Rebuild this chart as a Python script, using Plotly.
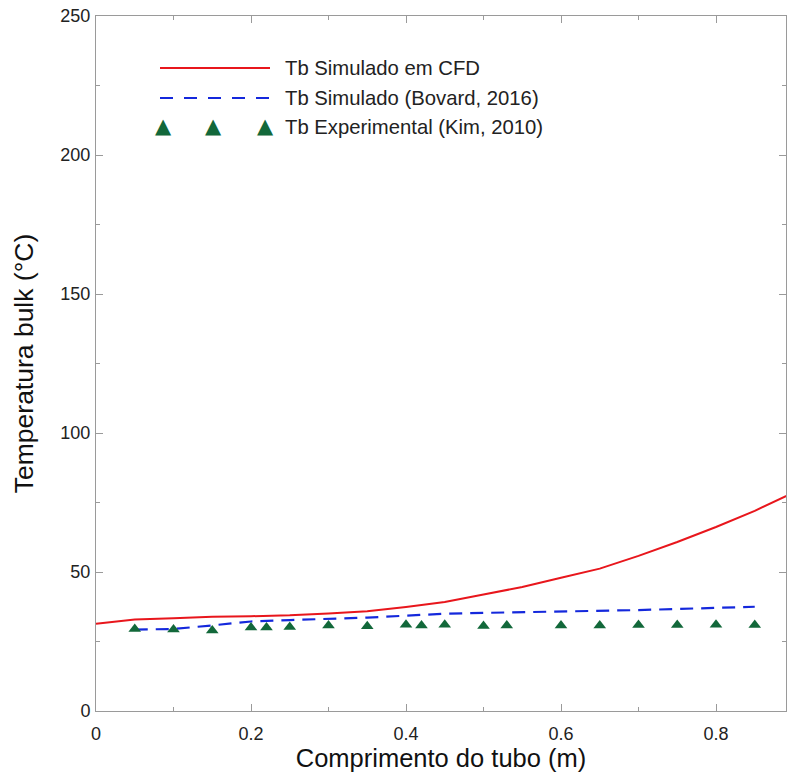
import plotly.graph_objects as go

# ---- data ----
x_cfd = [0, 0.05, 0.1, 0.15, 0.2, 0.25, 0.3, 0.35, 0.4, 0.45, 0.5, 0.55, 0.6, 0.65, 0.7, 0.75, 0.8, 0.85, 0.9]
y_cfd = [31.4, 32.9, 33.4, 33.9, 34.1, 34.4, 35.1, 35.9, 37.4, 39.2, 41.9, 44.6, 47.9, 51.2, 55.8, 60.8, 66.2, 72.0, 78.6]

x_bovard = [0.05, 0.1, 0.15, 0.2, 0.25, 0.3, 0.35, 0.4, 0.45, 0.5, 0.55, 0.6, 0.65, 0.7, 0.75, 0.8, 0.85]
y_bovard = [29.3, 29.5, 30.8, 32.2, 32.7, 33.1, 33.6, 34.3, 35.0, 35.3, 35.5, 35.7, 35.9, 36.3, 36.7, 37.1, 37.5]

x_exp = [0.05, 0.1, 0.15, 0.2, 0.22, 0.25, 0.3, 0.35, 0.4, 0.42, 0.45, 0.5, 0.53, 0.6, 0.65, 0.7, 0.75, 0.8, 0.85]
y_exp = [29.5, 29.3, 29.0, 30.0, 30.0, 30.2, 30.8, 30.5, 31.0, 30.8, 31.0, 30.6, 30.8, 30.8, 30.8, 30.9, 30.9, 31.0, 30.9]

names = ["Tb Simulado em CFD", "Tb Simulado (Bovard, 2016)", "Tb Experimental (Kim, 2010)"]
x_ticks = [0, 0.2, 0.4, 0.6, 0.8]
y_ticks = [0, 50, 100, 150, 200, 250]

RED = "#e8161c"
BLUE = "#1428dc"
GREEN = "#12683a"
FONT = "Liberation Sans, Arial, sans-serif"

W, H = 787, 778
ML, MR, MT, MB = 96, 1, 16, 67
PW, PH = W - ML - MR, H - MT - MB


def px(xp):
    return (xp - ML) / PW


def py(yp):
    return (H - MB - yp) / PH


fig = go.Figure()
fig.add_trace(go.Scatter(x=x_cfd, y=y_cfd, mode="lines", name=names[0],
                         line=dict(color=RED, width=2), showlegend=False))
fig.add_trace(go.Scatter(x=x_bovard, y=y_bovard, mode="lines", name=names[1],
                         line=dict(color=BLUE, width=2.2, dash="13px,8px"), showlegend=False))
fig.add_trace(go.Scatter(x=x_exp, y=y_exp, mode="markers", name=names[2],
                         marker=dict(symbol="triangle-up", size=11, color=GREEN), showlegend=False))

# ---- custom legend (layout decoration) ----
shapes = [
    dict(type="line", xref="paper", yref="paper", x0=px(160), x1=px(270), y0=py(68), y1=py(68),
         line=dict(color=RED, width=2)),
    dict(type="line", xref="paper", yref="paper", x0=px(160), x1=px(270), y0=py(98), y1=py(98),
         line=dict(color=BLUE, width=2.2, dash="13px,11px")),
]
annotations = []
for nm, yy in zip(names, [68, 98, 127]):
    annotations.append(dict(xref="paper", yref="paper", x=px(283), y=py(yy), text=nm,
                            showarrow=False, xanchor="left", yanchor="middle",
                            font=dict(family=FONT, size=20.3, color="#222222")))
for xx in [163, 213, 265]:
    annotations.append(dict(xref="paper", yref="paper", x=px(xx), y=py(126), text="▲",
                            showarrow=False, xanchor="center", yanchor="middle",
                            font=dict(family="DejaVu Sans", size=21, color=GREEN)))

axis_common = dict(
    showline=True, linecolor="#9a9a9a", linewidth=1, mirror="ticks",
    ticks="inside", ticklen=7, tickcolor="#9a9a9a", tickwidth=1,
    showgrid=False, zeroline=False, ticklabeloverflow="allow",
    tickfont=dict(family=FONT, size=18, color="#222222"),
)

fig.update_layout(
    width=W, height=H,
    margin=dict(l=ML, r=MR, t=MT, b=MB),
    paper_bgcolor="white", plot_bgcolor="white",
    xaxis=dict(range=[0, PW / 775], tickvals=x_ticks, ticktext=[str(v) for v in x_ticks],
               minor=dict(dtick=0.1, ticks="inside", ticklen=4, tickcolor="#9a9a9a"),
               ticklabelstandoff=6,
               title=dict(text="Comprimento do tubo (m)", font=dict(family=FONT, size=25.5, color="#111111"),
                          standoff=6),
               **axis_common),
    yaxis=dict(range=[0, 250], tickvals=y_ticks,
               minor=dict(dtick=25, ticks="inside", ticklen=4, tickcolor="#9a9a9a"),
               ticklabelstandoff=1,
               title=dict(text="Temperatura bulk (°C)", font=dict(family=FONT, size=26.5, color="#111111"),
                          standoff=19),
               **axis_common),
    shapes=shapes,
    annotations=annotations,
)

fig.write_html(
    "out.html",
    config={"displayModeBar": False},
    post_script="document.body.style.margin='0';document.body.style.overflow='hidden';",
)
